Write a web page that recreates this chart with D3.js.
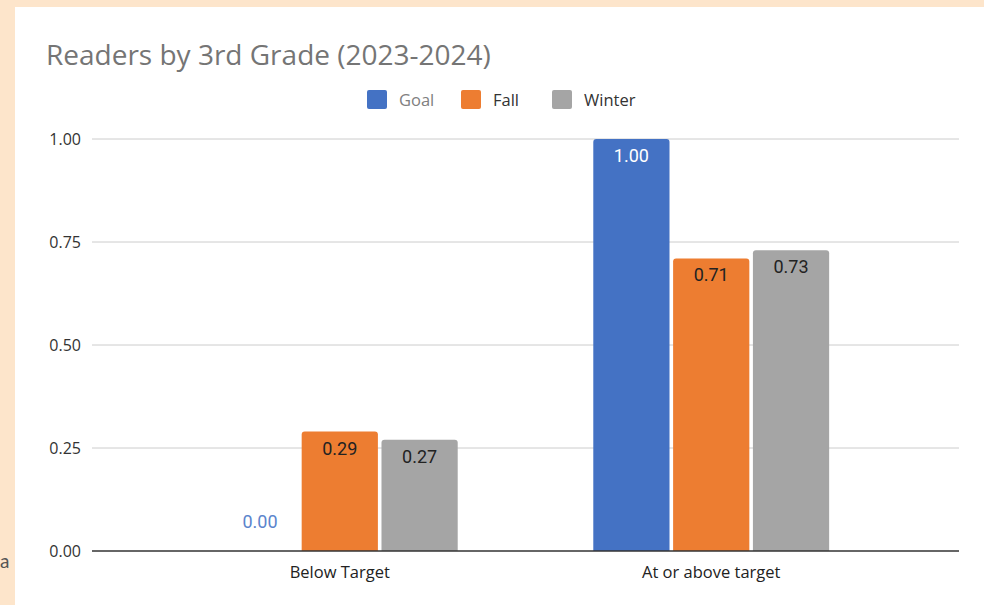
<!DOCTYPE html>
<html>
<head>
<meta charset="utf-8">
<script src="https://cdn.jsdelivr.net/npm/d3@7"></script>
<style>
  html, body { margin: 0; padding: 0; background: #fde5cb; }
  svg { display: block; }
</style>
</head>
<body>
<svg width="984" height="605"></svg>
<script>
var categories = ['Below Target', 'At or above target'];
var seriesNames = ['Goal', 'Fall', 'Winter'];
var goal = [0.00, 1.00];
var fall = [0.29, 0.71];
var winter = [0.27, 0.73];
var yTicks = [0, 0.25, 0.5, 0.75, 1];
var colors = ['#4472c4', '#ed7d31', '#a5a5a5'];

var svg = d3.select('svg');

// page background + white chart card
svg.append('rect').attr('x', 15).attr('y', 7).attr('width', 969).attr('height', 598).attr('fill', '#fff');
svg.append('text').attr('x', 0).attr('y', 568).text('a')
    .attr('font-family', 'Lato, sans-serif').attr('font-size', 19).attr('fill', '#555');

var seriesValues = [goal, fall, winter];
var rows = categories.map(function (c, i) {
    return { cat: c, vals: seriesNames.map(function (s, j) { return { name: s, v: seriesValues[j][i], k: j }; }) };
});

var plotLeft = 92, plotRight = 959;
var y = d3.scaleLinear().domain([0, 1]).range([551, 139]);
var x0 = d3.scaleBand().domain(categories).range([155, 896]).paddingInner(0.365).paddingOuter(0.18);
var x1 = d3.scaleBand().domain(seriesNames).range([0, x0.bandwidth()]).paddingInner(0.045);

svg.append('text')
    .attr('x', 46).attr('y', 65)
    .attr('font-family', 'Open Sans, sans-serif').attr('font-size', 28)
    .attr('fill', '#757575')
    .text('Readers by 3rd Grade (2023-2024)');

// legend
var legendX = [367, 461, 552];
var legend = svg.selectAll('.legend').data(seriesNames).enter().append('g')
    .attr('transform', function (d, i) { return 'translate(' + legendX[i] + ',90)'; });
legend.append('rect').attr('width', 20).attr('height', 19).attr('rx', 2)
    .attr('fill', function (d, i) { return colors[i]; });
legend.append('text').attr('x', 32).attr('y', 16)
    .attr('font-family', 'Open Sans, sans-serif').attr('font-size', 16.5)
    .attr('fill', function (d, i) { return i === 0 ? '#808080' : '#333'; })
    .text(function (d) { return d; });

// gridlines + y labels
svg.selectAll('.grid').data(yTicks.slice(1)).enter().append('line')
    .attr('x1', plotLeft).attr('x2', plotRight)
    .attr('y1', function (d) { return y(d); }).attr('y2', function (d) { return y(d); })
    .attr('stroke', '#cccccc').attr('stroke-width', 1);

svg.selectAll('.ylab').data(yTicks).enter().append('text')
    .attr('x', 81).attr('y', function (d) { return y(d) + 6; })
    .attr('text-anchor', 'end')
    .attr('font-family', 'Open Sans, sans-serif').attr('font-size', 16)
    .attr('fill', '#333')
    .text(function (d) { return d3.format('.2f')(d); });

function barPath(x, yTop, w, h, r) {
    if (h <= 0) return '';
    r = Math.min(r, h);
    return 'M' + x + ',' + (yTop + h) + 'V' + (yTop + r) + 'Q' + x + ',' + yTop + ' ' + (x + r) + ',' + yTop +
        'H' + (x + w - r) + 'Q' + (x + w) + ',' + yTop + ' ' + (x + w) + ',' + (yTop + r) + 'V' + (yTop + h) + 'Z';
}

var group = svg.selectAll('.group').data(rows).enter().append('g')
    .attr('transform', function (d) { return 'translate(' + x0(d.cat) + ',0)'; });

group.selectAll('path').data(function (d) { return d.vals; }).enter().append('path')
    .attr('d', function (d) { return barPath(x1(d.name), y(d.v), x1.bandwidth(), y(0) - y(d.v), 3); })
    .attr('fill', function (d) { return colors[d.k]; });

group.selectAll('.val').data(function (d) { return d.vals; }).enter().append('text')
    .attr('x', function (d) { return x1(d.name) + x1.bandwidth() / 2; })
    .attr('y', function (d) { return d.v === 0 ? y(0) - 23 : y(d.v) + 23; })
    .attr('text-anchor', 'middle')
    .attr('font-family', 'Roboto, sans-serif').attr('font-size', 18)
    .attr('fill', function (d) {
        if (d.v === 0) return '#5b84cc';
        return d.k === 0 ? '#ffffff' : '#222';
    })
    .text(function (d) { return d3.format('.2f')(d.v); });

// baseline
svg.append('line').attr('x1', plotLeft).attr('x2', plotRight)
    .attr('y1', y(0)).attr('y2', y(0))
    .attr('stroke', '#333').attr('stroke-width', 1.5);

// x labels
svg.selectAll('.xlab').data(categories).enter().append('text')
    .attr('x', function (d) { return x0(d) + x0.bandwidth() / 2; })
    .attr('y', 578)
    .attr('text-anchor', 'middle')
    .attr('font-family', 'Open Sans, sans-serif').attr('font-size', 16.5)
    .attr('fill', '#222')
    .text(function (d) { return d; });
</script>
</body>
</html>
